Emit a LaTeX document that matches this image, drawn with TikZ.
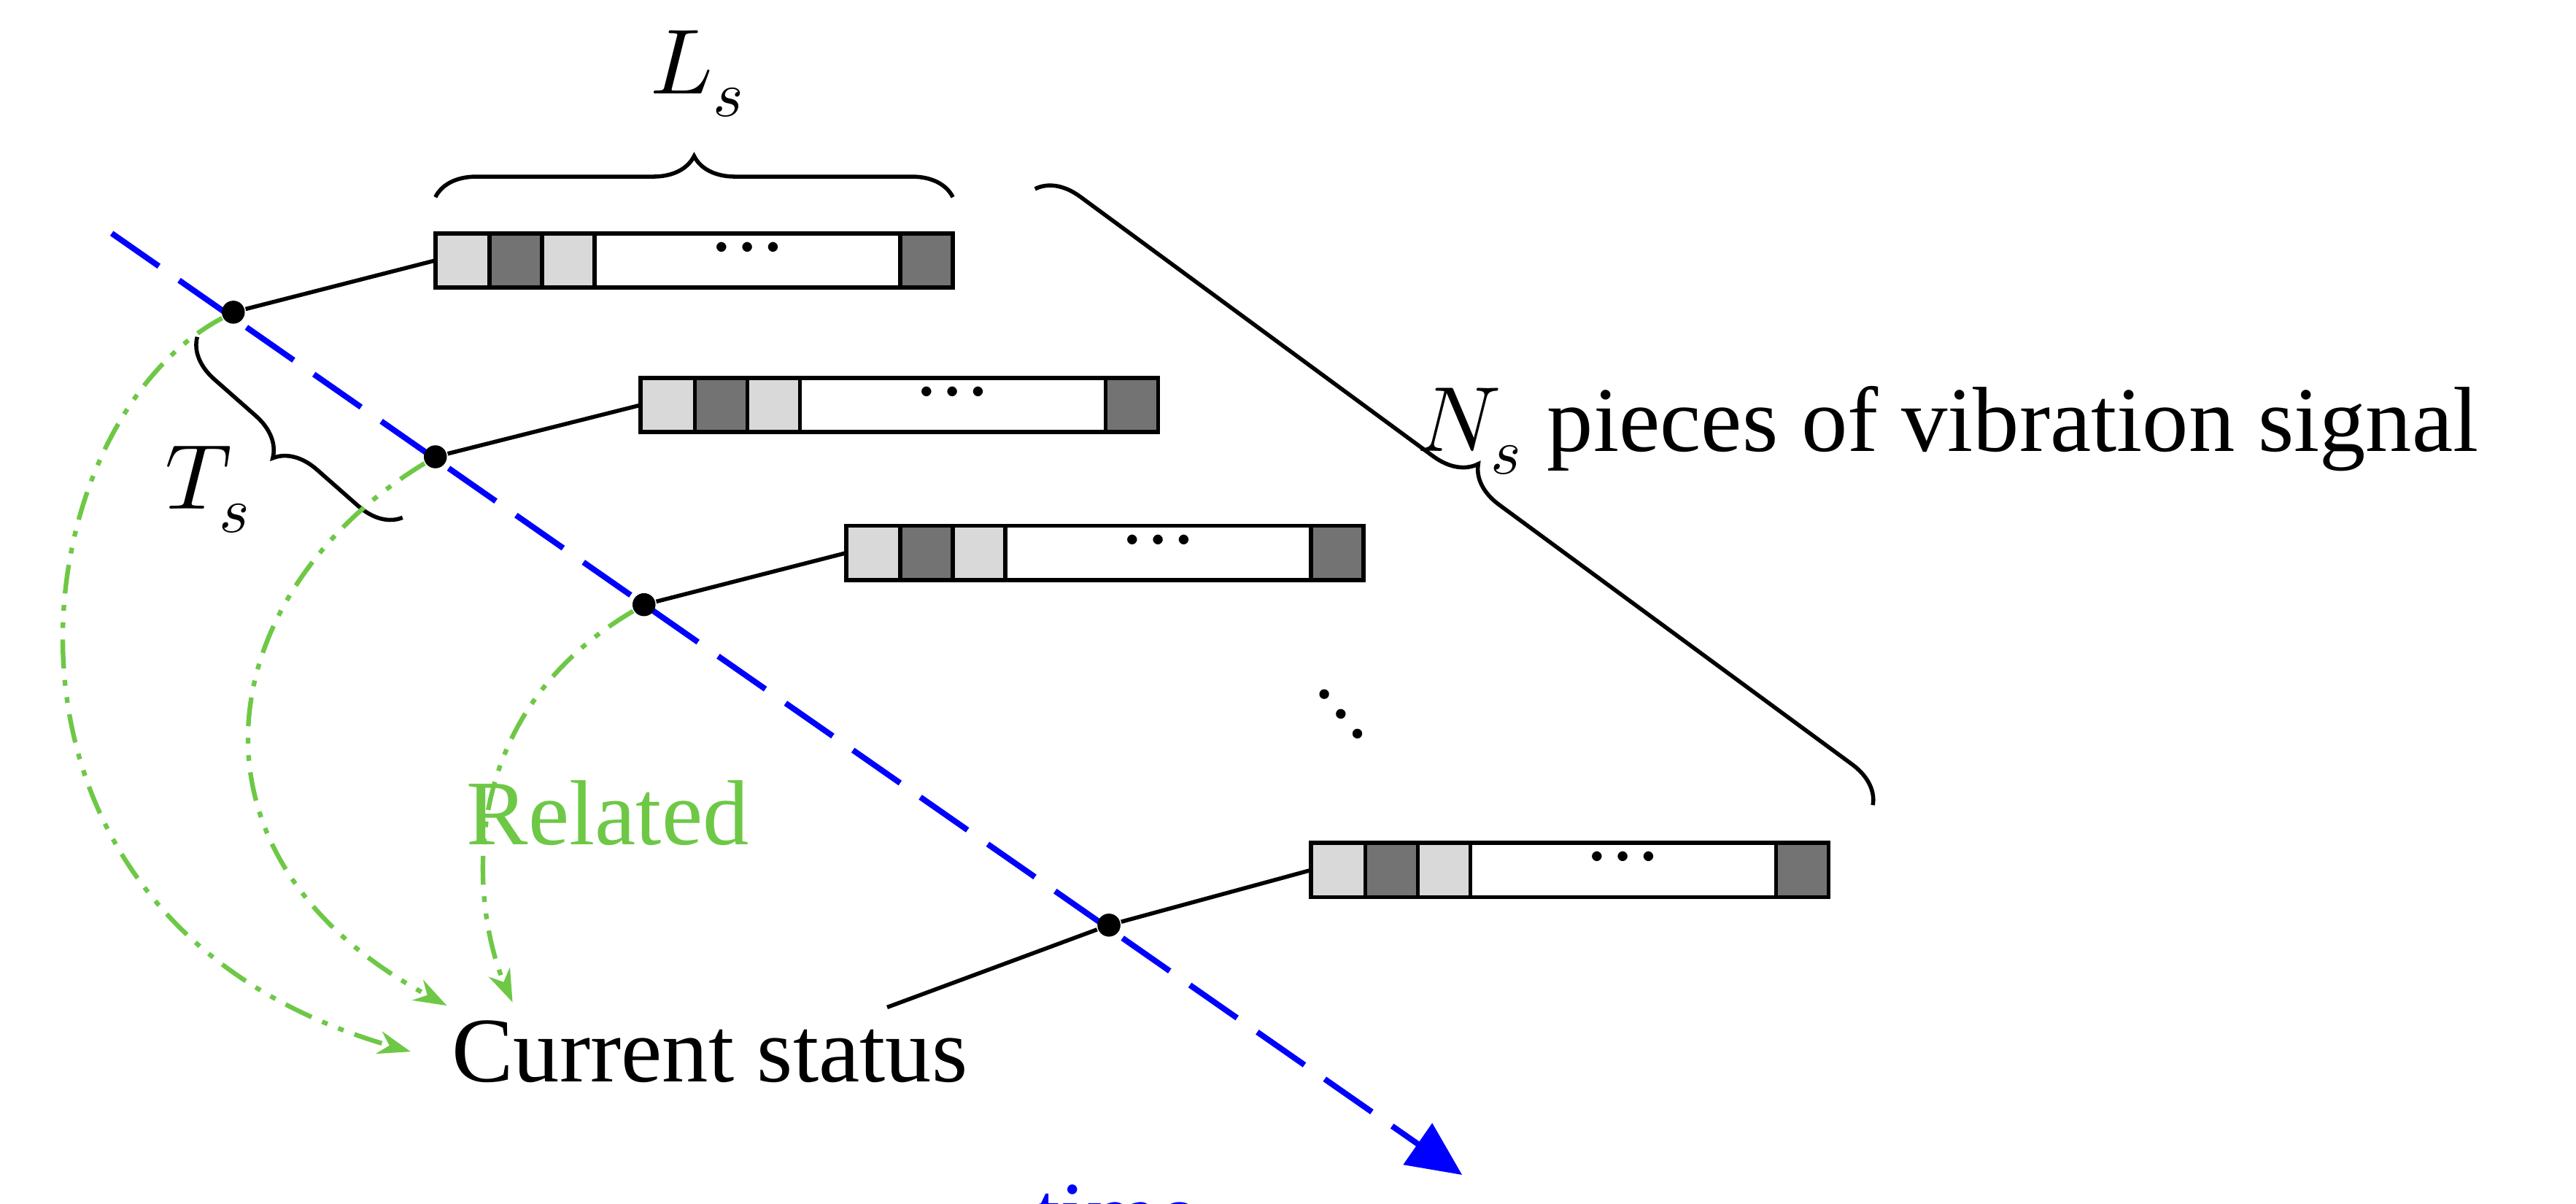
\documentclass[tikz,border=0pt]{standalone}
\usepackage{fontspec}
\setmainfont{Liberation Serif}
\usepackage{unicode-math}
\setmathfont{Latin Modern Math}
\usetikzlibrary{decorations.pathreplacing,arrows.meta,calc}
\definecolor{lg}{gray}{0.85}
\definecolor{dg}{gray}{0.45}
\definecolor{gr}{RGB}{110,200,70}
\tikzset{
 cell/.style={draw,line width=0.7pt},
 dotn/.style={circle,fill=black,inner sep=0pt,minimum size=0.14cm},
 rel/.style={gr,line width=0.8pt,dash pattern=on 5pt off 2pt on 1pt off 2pt on 1pt off 2pt,-{Stealth[length=0.2cm,width=0.14cm]}},
 br/.style={decorate,decoration={brace,amplitude=0.25cm},line width=0.7pt},
 lbl/.style={font=\fontsize{16}{19}\selectfont}
}
\newcommand{\sigbox}[3]{% x y name
 \begin{scope}[shift={(#1,#2)}]
 \fill[lg] (0,0) rectangle (0.33,0.33);
 \fill[dg] (0.33,0) rectangle (0.65,0.33);
 \fill[lg] (0.65,0) rectangle (0.97,0.33);
 \fill[dg] (2.83,0) rectangle (3.15,0.33);
 \draw[cell] (0,0) rectangle (3.15,0.33);
 \draw[cell] (0.33,0)--(0.33,0.33) (0.65,0)--(0.65,0.33) (0.97,0)--(0.97,0.33) (2.83,0)--(2.83,0.33);
 \node[lbl] at (1.9,0.19) {$\cdots$};
 \coordinate (#3) at (0,0.165);
 \coordinate (#3r) at (3.15,0.33);
 \coordinate (#3l) at (0,0.33);
 \end{scope}}
\begin{document}
\begin{tikzpicture}
\useasboundingbox (0,0) rectangle (15.68,-7.327);
% boxes
\sigbox{2.65}{-1.75}{b1}
\sigbox{3.90}{-2.63}{b2}
\sigbox{5.15}{-3.53}{b3}
\sigbox{7.98}{-5.46}{b4}
% time axis
\coordinate (ts) at (0.68,-1.42);
\coordinate (te) at (8.9,-7.15);
\draw[blue,line width=1pt,dash pattern=on 0.35cm off 0.15cm,-{Triangle[length=0.33cm,width=0.3cm]}] (ts)--(te);
\node[dotn] (d1) at (1.42,-1.90) {};
\node[dotn] (d2) at (2.65,-2.78) {};
\node[dotn] (d3) at (3.92,-3.68) {};
\node[dotn] (d4) at (6.75,-5.63) {};
\draw[line width=0.7pt] (d1)--(b1) (d2)--(b2) (d3)--(b3) (d4)--(b4);
% labels
\node[lbl] (cs) at (4.32,-6.4) {Current status};
\draw[line width=0.7pt] (5.4,-6.13)--(d4);
\node[lbl,blue] (tm) at (6.8,-7.4) {time};
\node[lbl,gr] (rl) at (3.7,-4.95) {Related};
% braces
\draw[br] ($(b1l)+(0,0.22)$) -- ($(b1r)+(0,0.22)$);
\node[lbl] (ls) at (4.25,-0.45) {$L_s$};
\draw[br] (6.3,-1.15) -- (11.4,-4.9);
\node[lbl,anchor=west] (ns) at (8.5,-2.62) {$N_s$ pieces of vibration signal};
\draw[br] (2.45,-3.15) -- (1.2,-2.05);
\node[lbl] (tsl) at (1.27,-2.98) {$T_s$};
\node[lbl,rotate=-50] (vd) at (8.12,-4.38) {$\cdots$};
% related arrows
\draw[rel] (d1) .. controls (0.1,-2.6) and (-0.3,-5.6) .. (2.5,-6.4);
\draw[rel] (d2) .. controls (1.3,-3.6) and (1.0,-5.2) .. (2.72,-6.12);
\draw[rel] (d3) .. controls (2.7,-4.4) and (2.9,-5.6) .. (3.12,-6.1);
\end{tikzpicture}
\end{document}
